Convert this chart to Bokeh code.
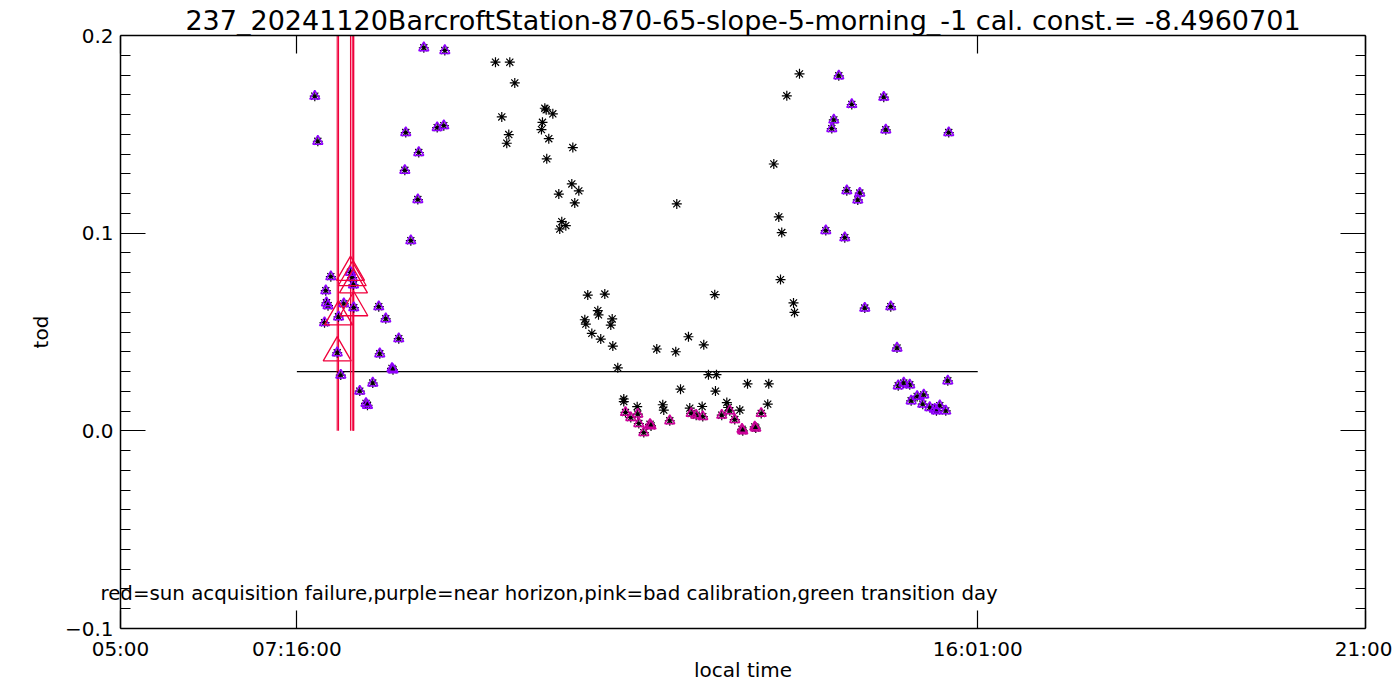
from bokeh.plotting import figure
from bokeh.models import FixedTicker, LinearAxis, Label, Range1d
from bokeh.embed import file_html
from bokeh.resources import INLINE

title_text = "237_20241120BarcroftStation-870-65-slope-5-morning_-1 cal. const.= -8.4960701"
note_text = "red=sun acquisition failure,purple=near horizon,pink=bad calibration,green transition day"
x_label = "local time"
y_label = "tod"

x_ticks = [5.0, 7.2667, 16.0167, 21.0]
x_tick_labels = ["05:00", "07:16:00", "16:01:00", "21:00"]
y_ticks = [-0.1, 0.0, 0.1, 0.2]
y_tick_labels = ["\u22120.1", "0.0", "0.1", "0.2"]
threshold_tod = 0.03
threshold_start = 7.2667
threshold_end = 16.0167

# red = sun acquisition failure (hours, tod)
fail_time = [7.785, 7.802, 7.956, 7.978, 7.994, 7.998]
fail_tod = [0.0395, 0.0577, 0.0802, 0.0775, 0.0739, 0.0623]

# purple = near horizon
horizon_time = [7.497, 7.536, 7.703, 7.638, 7.647, 7.667, 7.622, 7.870, 7.831, 8.075,
                8.155, 8.174, 8.242, 8.332, 8.319, 8.409, 8.489, 8.502, 8.576, 8.654,
                8.666, 8.731, 8.821, 8.833, 8.898, 9.070, 9.155, 9.168,
                14.064, 14.141, 14.167, 14.231, 14.308, 14.334, 14.398, 14.475, 14.501, 14.565,
                14.809, 14.835, 14.899, 14.979, 14.995, 15.066, 15.143, 15.161, 15.238, 15.323,
                15.310, 15.400, 15.464, 15.529, 15.486, 15.606, 15.632, 15.644]
horizon_tod = [0.1693, 0.1465, 0.0780, 0.0709, 0.0648, 0.0633, 0.0547, 0.0643, 0.0282, 0.0201,
               0.0139, 0.0129, 0.0242, 0.0390, 0.0628, 0.0567, 0.0316, 0.0309, 0.0466, 0.1318,
               0.1509, 0.0962, 0.1170, 0.1408, 0.1938, 0.1534, 0.1544, 0.1924,
               0.1013, 0.1529, 0.1573, 0.1796, 0.0977, 0.1215, 0.1651, 0.1168, 0.1203, 0.0621,
               0.1688, 0.1523, 0.0628, 0.0419, 0.0228, 0.0242, 0.0233, 0.0152, 0.0174, 0.0182,
               0.0135, 0.0118, 0.0110, 0.0127, 0.0101, 0.0101, 0.0253, 0.1509]

# pink = bad calibration
badcal_time = [11.490, 11.558, 11.648, 11.661, 11.805, 11.818, 11.725, 12.059, 12.334, 12.398,
               12.483, 12.727, 12.830, 12.894, 12.987, 12.997, 13.151, 13.164, 13.234]
badcal_tod = [0.0093, 0.0067, 0.0085, 0.0037, 0.0033, 0.0025, -0.0009, 0.0051, 0.0088, 0.0079,
              0.0072, 0.0079, 0.0101, 0.0057, 0.0008, 0.0000, 0.0020, 0.0014, 0.0088]

# black only
good_time = [9.819, 10.003, 10.067, 9.900, 9.990, 9.964, 10.453, 10.471, 10.556, 10.423,
             10.410, 10.504, 10.813, 10.478, 10.800, 10.890, 10.633, 10.838, 10.671, 10.723,
             10.645, 11.005, 11.224, 11.134, 11.143, 10.967, 10.980, 11.319, 11.301, 11.057,
             11.172, 11.327, 11.391, 11.468, 11.468, 11.640, 11.892, 11.969, 11.982, 12.136,
             12.149, 12.197, 12.299, 12.316, 12.475, 12.496, 12.556, 12.659, 12.637, 12.646,
             12.792, 12.810, 12.959, 13.058, 13.318, 13.331, 13.396, 13.460, 13.482, 13.498,
             13.563, 13.649, 13.662, 13.726]
good_tod = [0.1865, 0.1865, 0.1760, 0.1588, 0.1499, 0.1455, 0.1632, 0.1624, 0.1604, 0.1561,
            0.1524, 0.1478, 0.1433, 0.1376, 0.1249, 0.1214, 0.1198, 0.1153, 0.1058, 0.1038,
            0.1021, 0.0687, 0.0692, 0.0608, 0.0587, 0.0562, 0.0540, 0.0566, 0.0535, 0.0493,
            0.0464, 0.0429, 0.0319, 0.0161, 0.0148, 0.0122, 0.0414, 0.0132, 0.0105, 0.0400,
            0.1148, 0.0211, 0.0476, 0.0115, 0.0123, 0.0435, 0.0284, 0.0284, 0.0689, 0.0201,
            0.0143, 0.0118, 0.0105, 0.0238, 0.0135, 0.0238, 0.1350, 0.1082, 0.0765, 0.1003,
            0.1695, 0.0647, 0.0599, 0.1806]

FONT = "DejaVu Sans"
RED = "#f0003c"
PURPLE = "#9000ff"
PINK = "#cc0099"

# layout: plot box from x=120..1365, y=35..628; frame padded 22px left/right so the
# note text can overhang the left edge of the box without being clipped
PAD = 22
W, H = 1392, 684
BL, BR, BT, BB = 120 - PAD, W - 1365 - PAD, 35, H - 628
px_per_unit = (1365 - 120) / (x_ticks[-1] - x_ticks[0])
pad_units = PAD / px_per_unit

p = figure(width=W, height=H, output_backend="svg", toolbar_location=None,
           x_range=Range1d(x_ticks[0] - pad_units, x_ticks[-1] + pad_units),
           y_range=Range1d(y_ticks[0], y_ticks[-1]),
           min_border_left=BL, min_border_right=BR, min_border_top=BT, min_border_bottom=BB,
           background_fill_color="white", border_fill_color="white")
p.grid.visible = False
p.outline_line_color = None

p.title.text = title_text
p.title.text_font = FONT
p.title.text_font_size = "27px"
p.title.text_font_style = "normal"
p.title.text_color = "black"
p.title.align = "center"
p.title.standoff = 0

y_minor = [round(y_ticks[0] + 0.01 * i, 3) for i in range(31)]
xt = FixedTicker(ticks=x_ticks, minor_ticks=[])
yt = FixedTicker(ticks=y_ticks, minor_ticks=y_minor)

def style_axis(ax, ticker, tick_in, ticks, labels):
    ax.ticker = ticker
    ax.axis_line_color = "black"
    ax.axis_line_width = 1.5
    ax.major_tick_line_color = "black"
    ax.major_tick_line_width = 1.2
    ax.minor_tick_line_color = "black"
    ax.minor_tick_line_width = 1.2
    ax.major_tick_in = tick_in
    ax.major_tick_out = 0
    ax.minor_tick_in = 10
    ax.minor_tick_out = 0
    ax.major_label_text_font = FONT
    ax.major_label_text_font_size = "20px"
    ax.axis_label_text_font = FONT
    ax.axis_label_text_font_size = "20px"
    ax.axis_label_text_font_style = "normal"
    ax.axis_label_text_color = "black"
    if labels is None:
        ax.major_label_overrides = {t: "" for t in ticks}
        ax.major_label_text_color = None
        ax.major_label_standoff = 0
    else:
        ax.major_label_overrides = dict(zip(ticks, labels))
        ax.major_label_text_color = "black"

# bottom axis (box edge, ticks, labels)
xa = p.xaxis[0]
style_axis(xa, xt, 18, x_ticks, x_tick_labels)
xa.bounds = (x_ticks[0], x_ticks[-1])
xa.axis_label = x_label
xa.major_label_standoff = 8
xa.axis_label_standoff = -6

# left axis at the padded frame edge: only tick labels and axis title
ya = p.yaxis[0]
style_axis(ya, yt, 25, y_ticks, y_tick_labels)
ya.axis_line_color = None
ya.major_tick_line_color = None
ya.minor_tick_line_color = None
ya.axis_label = y_label
ya.major_label_standoff = -(PAD - 7)
ya.axis_label_standoff = 9

# left box edge with ticks, pinned at 05:00
yl = LinearAxis()
style_axis(yl, yt, 25, y_ticks, None)
yl.fixed_location = x_ticks[0]
p.add_layout(yl, "left")

top = LinearAxis()
style_axis(top, xt, 18, x_ticks, None)
top.bounds = (x_ticks[0], x_ticks[-1])
p.add_layout(top, "above")
right = LinearAxis()
style_axis(right, yt, 25, y_ticks, None)
right.fixed_location = x_ticks[-1]
p.add_layout(right, "right")

# threshold line
p.line(x=[threshold_start, threshold_end], y=[threshold_tod, threshold_tod],
       line_color="black", line_width=1.2)

# sun acquisition failure: vertical lines
p.segment(x0=fail_time, y0=[0.0] * len(fail_time), x1=fail_time, y1=[y_ticks[-1]] * len(fail_time),
          line_color=RED, line_width=1.1)

all_time = fail_time + horizon_time + badcal_time + good_time
all_tod = fail_tod + horizon_tod + badcal_tod + good_tod
p.scatter(all_time, all_tod, marker="asterisk", size=10, line_color="black", line_width=1.2)

p.scatter(fail_time + horizon_time, fail_tod + horizon_tod, marker="triangle", size=10,
          fill_color=None, line_color=PURPLE, line_width=1.5)
p.scatter(badcal_time, badcal_tod, marker="triangle", size=10,
          fill_color=None, line_color=PINK, line_width=1.5)
p.scatter(fail_time, fail_tod, marker="triangle", size=28,
          fill_color=None, line_color=RED, line_width=1.3)

# note written inside the plot, near the lower-left corner (data coordinates)
p.add_layout(Label(x=4.743, y=-0.0825, text=note_text,
                   text_font=FONT, text_font_size="19.8px", text_color="black",
                   text_baseline="middle", text_align="left"))

open("out.html", "w").write(file_html(p, INLINE))
